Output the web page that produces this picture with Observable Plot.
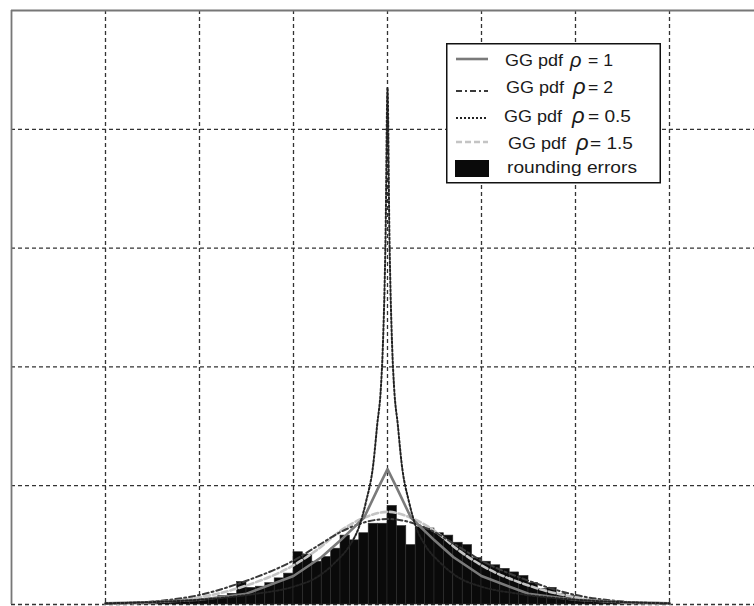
<!DOCTYPE html>
<html>
<head>
<meta charset="utf-8">
<script src="https://cdn.jsdelivr.net/npm/d3@7"></script>
<script src="https://cdn.jsdelivr.net/npm/@observablehq/plot@0.6"></script>
<style>
  html, body { margin: 0; padding: 0; overflow: hidden; background: #fff; }
  #wrap { position: relative; width: 754px; height: 606px; overflow: hidden; }
  #wrap > svg:first-child { max-width: none !important; }
  #legend { position: absolute; left: 446px; top: 43px; }
  svg text { font-family: "Liberation Sans", Arial, sans-serif; }
</style>
</head>
<body>
<div id="wrap"></div>
<script>
// ---- data ----
const xGrid = [-3, -2, -1, 0, 1, 2, 3];
const yGrid = [0, 1, 2, 3, 4];

// histogram of rounding errors: bin width and heights (left edge from -2.9)
const histStart = -2.9;
const histWidth = 0.1;
const histHeights = [
  0.005, 0.005, 0.008, 0.01, 0.012, 0.015, 0.02, 0.025, 0.03, 0.045,
  0.05, 0.07, 0.09, 0.19, 0.14, 0.15, 0.18, 0.22, 0.26, 0.44,
  0.42, 0.36, 0.40, 0.47, 0.58, 0.54, 0.60, 0.68, 0.68, 0.83,
  0.66, 0.50, 0.65, 0.64, 0.60, 0.58, 0.52, 0.50, 0.39, 0.36,
  0.33, 0.30, 0.27, 0.24, 0.18, 0.13, 0.14, 0.09, 0.07, 0.04,
  0.035, 0.03, 0.02, 0.015, 0.01, 0.01, 0.01, 0.015
];

// GG pdf curves (x, density)
const rho1X = [-3, -2.5, -2, -1.5, -1, -0.7, -0.5, -0.25, -0.1, 0, 0.1, 0.25, 0.5, 0.7, 1, 1.5, 2, 2.5, 3];
const rho1Y = [0.01, 0.02, 0.04, 0.09, 0.24, 0.40, 0.54, 0.73, 0.98, 1.14, 0.98, 0.73, 0.54, 0.40, 0.24, 0.09, 0.04, 0.02, 0.01];

const rho2X = [-3, -2.5, -2, -1.5, -1, -0.75, -0.5, -0.25, 0, 0.25, 0.5, 0.75, 1, 1.5, 2, 2.5, 3];
const rho2Y = [0.006, 0.025, 0.08, 0.2, 0.37, 0.49, 0.61, 0.69, 0.72, 0.69, 0.61, 0.49, 0.37, 0.2, 0.08, 0.025, 0.006];

const rho05X = [-3, -2.5, -2, -1.4, -1, -0.75, -0.55, -0.4, -0.3, -0.23, -0.15, -0.11, -0.07, -0.05, -0.02, 0,
                0.02, 0.05, 0.07, 0.11, 0.15, 0.23, 0.3, 0.4, 0.55, 0.75, 1, 1.4, 2, 2.5, 3];
const rho05Y = [0.01, 0.02, 0.04, 0.09, 0.15, 0.23, 0.36, 0.5, 0.66, 0.86, 1.19, 1.51, 1.83, 2.16, 3.13, 4.35,
                3.13, 2.16, 1.83, 1.51, 1.19, 0.86, 0.66, 0.5, 0.36, 0.23, 0.15, 0.09, 0.04, 0.02, 0.01];

const rho15X = [-3, -2.5, -2, -1.5, -1, -0.75, -0.5, -0.25, 0, 0.25, 0.5, 0.75, 1, 1.5, 2, 2.5, 3];
const rho15Y = [0.006, 0.02, 0.06, 0.16, 0.33, 0.46, 0.62, 0.73, 0.78, 0.73, 0.62, 0.46, 0.33, 0.16, 0.06, 0.02, 0.006];

const legendLabels = ["GG pdf", "GG pdf", "GG pdf", "GG pdf", "rounding errors"];
const legendRho = ["= 1", "= 2", "= 0.5", "= 1.5"];

// ---- build tables ----
const hist = histHeights.map((v, i) => ({
  x1: histStart + i * histWidth,
  x2: histStart + (i + 1) * histWidth,
  v
}));
const toPts = (xs, ys) => xs.map((x, i) => ({x, y: ys[i]}));
const c1 = toPts(rho1X, rho1Y);
const c2 = toPts(rho2X, rho2Y);
const c05 = toPts(rho05X, rho05Y);
const c15 = toPts(rho15X, rho15Y);

const styles = {
  r1:  {stroke: "#7a7a7a", strokeWidth: 2.6},
  r2:  {stroke: "#3a3a3a", strokeWidth: 2, strokeDasharray: "6,3,2,3"},
  r05: {stroke: "#222", strokeWidth: 2, strokeDasharray: "2,2"},
  r15: {stroke: "#c4c4c4", strokeWidth: 2.6, strokeDasharray: "6,3"}
};

const chart = Plot.plot({
  width: 776,
  height: 616,
  marginLeft: 11,
  marginTop: 10,
  marginRight: 13,
  marginBottom: 12,
  style: {background: "#fff", overflow: "visible", maxWidth: "none"},
  x: {domain: [-4, 4], axis: null},
  y: {domain: [0, 5], axis: null},
  marks: [
    Plot.ruleX(xGrid, {stroke: "#333", strokeWidth: 1.3, strokeDasharray: "4,3"}),
    Plot.ruleY(yGrid, {stroke: "#333", strokeWidth: 1.3, strokeDasharray: "4,3"}),
    Plot.rectY(hist, {x1: "x1", x2: "x2", y: "v", fill: "#0a0a0a", stroke: "#2e2e2e", strokeWidth: 0.6}),
    Plot.line(c15, {x: "x", y: "y", curve: "monotone-x", ...styles.r15}),
    Plot.line(c2, {x: "x", y: "y", curve: "monotone-x", ...styles.r2}),
    Plot.line(c1, {x: "x", y: "y", curve: "linear", ...styles.r1}),
    Plot.line(c05, {x: "x", y: "y", curve: "monotone-x", ...styles.r05}),
    Plot.ruleY([5], {stroke: "#777", strokeWidth: 1.8}),
    Plot.ruleX([-4], {stroke: "#777", strokeWidth: 1.8})
  ]
});
chart.style.maxWidth = "none";
document.getElementById("wrap").appendChild(chart);

// ---- legend ----
const ns = "http://www.w3.org/2000/svg";
const leg = document.createElementNS(ns, "svg");
leg.setAttribute("id", "legend");
leg.setAttribute("width", 216);
leg.setAttribute("height", 142);
const add = (tag, attrs, text) => {
  const el = document.createElementNS(ns, tag);
  for (const k in attrs) el.setAttribute(k, attrs[k]);
  if (text != null) el.textContent = text;
  leg.appendChild(el);
  return el;
};
add("rect", {x: 0.75, y: 0.75, width: 213.5, height: 139, fill: "#fff", stroke: "#111", "stroke-width": 1.5});
const sampleY = [16, 48, 75, 99];
const sampleStyles = [styles.r1, styles.r2, styles.r05, styles.r15];
sampleStyles.forEach((s, i) => {
  add("line", {x1: 10, x2: 42, y1: sampleY[i], y2: sampleY[i], stroke: s.stroke,
    "stroke-width": s.strokeWidth, "stroke-dasharray": s.strokeDasharray || "none"});
});
add("rect", {x: 9, y: 117, width: 34, height: 17, fill: "#0a0a0a"});
const baseY = [23, 50, 79, 106, 130];
const labX = [59, 60, 58, 62, 61];
const rhoX = [124, 127, 126, 130];
const eqX = [142, 142, 142, 144];
legendLabels.forEach((t, i) => {
  add("text", {x: labX[i], y: baseY[i], "font-size": 17, fill: "#1a1a1a",
    textLength: i === 4 ? 130 : 58, lengthAdjust: "spacingAndGlyphs"}, t);
});
legendRho.forEach((t, i) => {
  add("text", {x: rhoX[i], y: baseY[i] + 1, "font-size": i === 0 ? 20 : 22, "font-style": "italic",
    fill: "#1a1a1a", "font-family": "DejaVu Sans"}, "\u03C1");
  add("text", {x: eqX[i], y: baseY[i], "font-size": 17, fill: "#1a1a1a",
    textLength: t.length === 3 ? 25 : 43, lengthAdjust: "spacingAndGlyphs"}, t);
});
document.getElementById("wrap").appendChild(leg);
</script>
</body>
</html>
